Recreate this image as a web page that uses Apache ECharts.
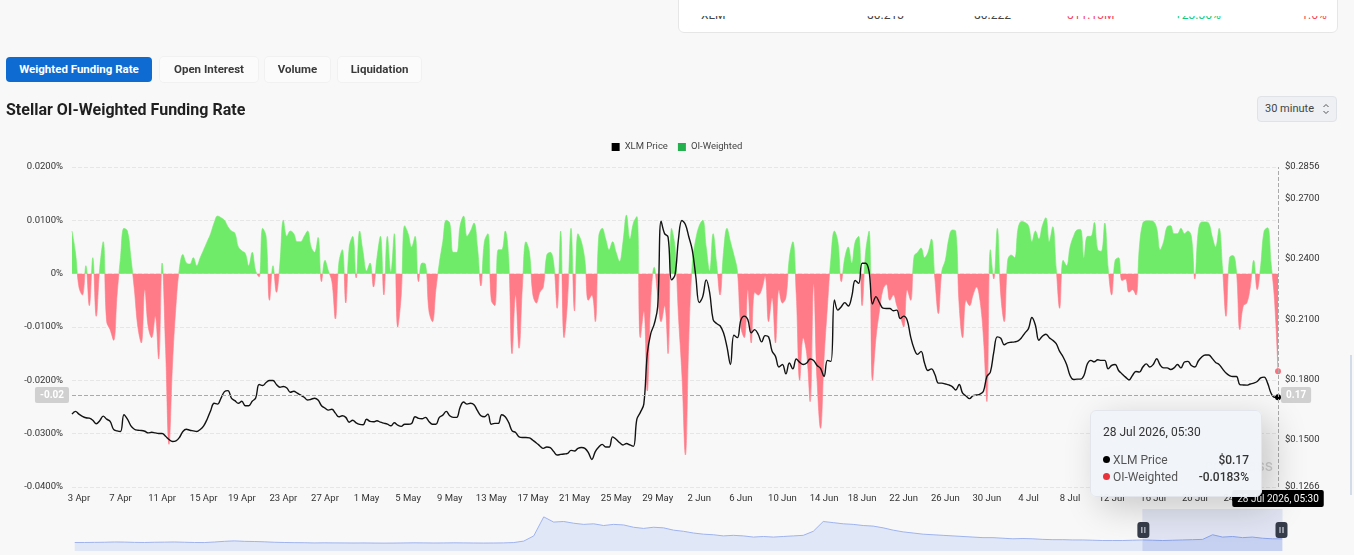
<!DOCTYPE html>
<html>
<head>
<meta charset="utf-8">
<title>Stellar OI-Weighted Funding Rate</title>
<script src="https://cdn.jsdelivr.net/npm/echarts@6/dist/echarts.min.js"></script>
<style>
  html, body { margin: 0; padding: 0; width: 1354px; height: 555px; overflow: hidden; background: #f8f8f8; font-family: Roboto, 'Noto Sans', sans-serif; }
  #chart { position: absolute; left: 0; top: 0; width: 1354px; height: 555px; }
  .card { position: absolute; left: 678px; top: -6px; width: 658px; height: 37px; background: #fff; border: 1px solid #e6e6e6; border-radius: 6px; z-index: 2; }
  .card .row { position: absolute; left: 0; top: 21px; width: 658px; height: 3px; overflow: hidden; }
  .card .row span { position: absolute; top: -7px; font-size: 12px; line-height: 12px; color: #444; }
  .tab { position: absolute; top: 57px; height: 25px; line-height: 25px; font-size: 11.5px; font-weight: 700; text-align: center; border-radius: 4px; color: #3a3a3a; background: #fbfbfb; box-shadow: 0 0 0 1px #f1f1f1; z-index: 2; }
  .tab.active { background: #0d6bd1; color: #fff; box-shadow: none; }
  .title { position: absolute; left: 6px; top: 100px; font-size: 16px; font-weight: 700; color: #1f1f1f; z-index: 2; }
  .select { position: absolute; left: 1257px; top: 96px; width: 78px; height: 24px; line-height: 24px; background: #eef0f3; border: 1px solid #dfe2e6; border-radius: 4px; font-size: 11px; color: #444; z-index: 2; }
  .select span { position: absolute; left: 7px; }
  .select svg { position: absolute; left: 64px; top: 6px; }
  .scroll { position: absolute; left: 1350px; top: 355px; width: 2px; height: 140px; background: #d3dbe8; z-index: 2; }
</style>
</head>
<body>
<div id="chart"></div>
<div class="card"><div class="row">
  <span style="left:22px">XLM</span>
  <span style="left:188px">$0.213</span>
  <span style="left:295px">$0.222</span>
  <span style="left:388px;color:#f6465d">$11.13M</span>
  <span style="left:496px;color:#0ecb81">+23.36%</span>
  <span style="left:619px;color:#f6465d">-1.6%</span>
</div></div>
<div class="tab active" style="left:6px;width:146px">Weighted Funding Rate</div>
<div class="tab" style="left:160px;width:98px">Open Interest</div>
<div class="tab" style="left:265px;width:65px">Volume</div>
<div class="tab" style="left:338px;width:83px">Liquidation</div>
<div class="title">Stellar OI-Weighted Funding Rate</div>
<div class="select"><span>30 minute</span>
  <svg width="8" height="12" viewBox="0 0 8 12"><path d="M1.5 4 L4 1.5 L6.5 4 M1.5 8 L4 10.5 L6.5 8" fill="none" stroke="#555" stroke-width="1"/></svg>
</div>
<div class="scroll"></div>
<script>
// time span of the view: first and last sample
const startTime = Date.UTC(2026, 3, 2, 13, 30);
const endTime = Date.UTC(2026, 6, 28, 5, 30);
const xTickLabels = ['3 Apr', '7 Apr', '11 Apr', '15 Apr', '19 Apr', '23 Apr', '27 Apr', '1 May', '5 May', '9 May',
  '13 May', '17 May', '21 May', '25 May', '29 May', '2 Jun', '6 Jun', '10 Jun', '14 Jun', '18 Jun', '22 Jun',
  '26 Jun', '30 Jun', '4 Jul', '8 Jul', '12 Jul', '16 Jul', '20 Jul', '24 Jul', '28 Jul'];

// XLM price ($)
const priceValues = [
  0.1628, 0.1642, 0.1628, 0.1617, 0.161, 0.1608, 0.1598, 0.158, 0.1595, 0.1618,
  0.1603, 0.1592, 0.1552, 0.1545, 0.1542, 0.1625, 0.1603, 0.157, 0.1553, 0.1548,
  0.1547, 0.1543, 0.1535, 0.1538, 0.1535, 0.1532, 0.1532, 0.1518, 0.1502, 0.1492,
  0.1495, 0.1512, 0.1542, 0.1553, 0.1548, 0.1545, 0.1542, 0.1552, 0.157, 0.1603,
  0.1645, 0.1682, 0.1678, 0.1708, 0.174, 0.1745, 0.1708, 0.1695, 0.1682, 0.1692,
  0.167, 0.167, 0.1692, 0.1708, 0.1775, 0.177, 0.1785, 0.1795, 0.1795, 0.1775,
  0.1762, 0.1765, 0.1758, 0.1737, 0.1742, 0.1732, 0.1723, 0.1712, 0.1698, 0.1702,
  0.1707, 0.1698, 0.167, 0.1658, 0.1648, 0.1652, 0.1633, 0.1615, 0.162, 0.1612,
  0.1588, 0.1598, 0.1585, 0.1577, 0.1575, 0.1603, 0.1592, 0.159, 0.1595, 0.1588,
  0.1583, 0.1578, 0.157, 0.1585, 0.1573, 0.1567, 0.1578, 0.1578, 0.1582, 0.1615,
  0.1607, 0.1605, 0.1612, 0.1592, 0.1578, 0.1578, 0.1612, 0.1623, 0.1642, 0.162,
  0.1612, 0.1612, 0.1662, 0.1688, 0.1678, 0.1682, 0.1675, 0.1645, 0.162, 0.1615,
  0.1628, 0.1578, 0.1582, 0.1582, 0.1625, 0.1615, 0.1587, 0.1545, 0.1537, 0.1515,
  0.1512, 0.1512, 0.151, 0.1498, 0.1485, 0.147, 0.1458, 0.1465, 0.1462, 0.1442,
  0.1425, 0.1428, 0.143, 0.1433, 0.1448, 0.1445, 0.1458, 0.1462, 0.1458, 0.1437,
  0.1403, 0.1442, 0.1465, 0.1478, 0.1465, 0.1465, 0.1515, 0.1503, 0.1487, 0.1475,
  0.1482, 0.1475, 0.1468, 0.1603, 0.1637, 0.1678, 0.1928, 0.2028, 0.2075, 0.2162,
  0.2587, 0.2525, 0.2508, 0.2295, 0.232, 0.2498, 0.259, 0.257, 0.2508, 0.2442,
  0.2312, 0.2182, 0.2212, 0.2295, 0.2232, 0.2098, 0.2078, 0.2067, 0.2032, 0.1962,
  0.1875, 0.202, 0.2008, 0.2095, 0.2115, 0.2098, 0.2032, 0.2048, 0.2025, 0.1987,
  0.2018, 0.2012, 0.1942, 0.1915, 0.1862, 0.1875, 0.1828, 0.1882, 0.1853, 0.1902,
  0.1885, 0.1875, 0.1882, 0.1902, 0.1895, 0.187, 0.1855, 0.1815, 0.1895, 0.189,
  0.2195, 0.2145, 0.2162, 0.2182, 0.2165, 0.2212, 0.2292, 0.2278, 0.2378, 0.2378,
  0.2337, 0.2175, 0.2212, 0.2182, 0.2155, 0.2153, 0.2153, 0.2142, 0.2145, 0.2103,
  0.2115, 0.2095, 0.2012, 0.1953, 0.1925, 0.194, 0.1882, 0.1845, 0.1853, 0.1825,
  0.1782, 0.1782, 0.1778, 0.1773, 0.1765, 0.1748, 0.1775, 0.1732, 0.1718, 0.1705,
  0.172, 0.1723, 0.1728, 0.1742, 0.1815, 0.1837, 0.1937, 0.2012, 0.2005, 0.1973,
  0.1982, 0.1985, 0.1987, 0.1992, 0.2008, 0.2032, 0.2053, 0.2108, 0.207, 0.1995,
  0.2015, 0.2025, 0.2008, 0.1995, 0.1978, 0.194, 0.1912, 0.1875, 0.182, 0.18,
  0.1802, 0.1802, 0.182, 0.1878, 0.1895, 0.1888, 0.1898, 0.1895, 0.1895, 0.1853,
  0.187, 0.1875, 0.1845, 0.1828, 0.1812, 0.1798, 0.182, 0.184, 0.1837, 0.1862,
  0.1878, 0.1862, 0.1875, 0.1903, 0.1872, 0.1858, 0.1858, 0.185, 0.1858, 0.1875,
  0.1858, 0.1887, 0.189, 0.187, 0.1862, 0.1892, 0.1912, 0.1922, 0.1922, 0.1905,
  0.1885, 0.1875, 0.1853, 0.1832, 0.182, 0.1815, 0.1815, 0.1775, 0.1773, 0.1772,
  0.1778, 0.1782, 0.179, 0.1808, 0.1812, 0.1782, 0.1732, 0.1712, 0.1712
];

// OI-weighted funding rate (%)
const fundingRates = [
  0.008, 0.004, -0.0025, -0.004, 0.0015, -0.006, 0.003, -0.008, 0.001, 0.006,
  -0.009, -0.0105, -0.0125, -0.004, 0.003, 0.0085, 0.008, 0.003, -0.003, -0.01,
  -0.013, -0.003, -0.01, -0.012, -0.008, -0.016, 0.002, -0.014, -0.032, -0.017,
  -0.006, 0.001, 0.0036, 0.002, 0.0018, 0.003, 0.0015, 0.003, 0.0045, 0.006,
  0.0075, 0.0095, 0.0108, 0.0105, 0.01, 0.0088, 0.008, 0.0076, 0.005, 0.0043,
  0.0038, 0.0015, 0.004, 0.0005, -0.0006, 0.0085, 0.007, -0.005, 0.0015, -0.0035,
  0.002, 0.01, 0.007, 0.008, 0.0075, 0.006, 0.006, 0.007, 0.008, 0.005,
  0.004, 0.0068, -0.0015, 0.0025, 0.0005, -0.0015, -0.0085, 0.002, 0.0045, -0.0055,
  0.005, 0.007, -0.0008, 0.008, 0.004, 0.0005, 0.002, -0.0025, 0.003, 0.007,
  -0.004, 0.007, 0.0003, 0.0075, -0.01, -0.004, 0.009, 0.0075, 0.005, 0.007,
  -0.0015, 0.002, 0.0018, -0.007, -0.009, -0.003, 0.002, 0.006, 0.01, 0.0095,
  0.004, 0.004, 0.009, 0.0108, 0.007, 0.008, 0.0095, 0.005, -0.0023, 0.006,
  0.0075, -0.005, -0.006, 0.0045, 0.0045, 0.008, 0.003, -0.015, -0.004, -0.014,
  -0.002, 0.006, 0.004, -0.004, -0.0055, -0.0035, -0.0025, 0.0035, 0.004, 0.002,
  -0.0065, 0.008, -0.012, -0.005, 0.0085, -0.007, 0.0075, 0.006, 0.0025, -0.005,
  -0.004, -0.009, 0.007, 0.0085, 0.0065, 0.0045, 0.006, 0.004, 0.0023, 0.006,
  0.011, 0.0065, 0.0095, 0.0107, -0.012, -0.007, -0.022, -0.005, 0.0012, -0.004,
  -0.009, -0.006, -0.015, 0.0085, 0.005, -0.008, -0.019, -0.034, -0.012, 0.002,
  0.0065, 0.009, 0.01, 0.005, 0.0005, 0.0075, 0.002, -0.004, 0.004, 0.0085,
  0.006, 0.0035, 0.0005, -0.01, -0.012, -0.003, -0.013, -0.0035, -0.004, -0.003,
  -0.0005, -0.009, -0.0045, -0.013, -0.003, -0.0055, -0.0045, 0.003, 0.006, -0.004,
  -0.02, -0.012, -0.015, -0.024, -0.002, -0.02, -0.029, -0.016, -0.006, 0.003,
  0.008, 0.006, -0.0015, 0.003, 0.005, 0.002, 0.006, 0.007, -0.006, 0.004,
  0.008, -0.02, -0.012, -0.007, -0.003, -0.002, -0.005, -0.004, -0.006, -0.008,
  -0.01, -0.003, -0.005, 0.0033, 0.004, 0.0048, 0.003, 0.004, 0.0065, -0.001,
  -0.0075, 0.0005, 0.0025, 0.0065, 0.0082, 0.008, -0.006, -0.012, -0.005, -0.006,
  -0.004, -0.0025, -0.005, -0.012, -0.024, 0.0045, -0.001, 0.0085, -0.004, -0.009,
  0.0025, 0.0035, 0.003, 0.0085, 0.0098, 0.0096, 0.009, 0.006, 0.008, 0.0065,
  0.009, 0.0105, 0.006, 0.0088, 0.001, -0.0065, 0.0025, 0.0015, 0.005, 0.007,
  0.0082, 0.0083, 0.003, 0.007, 0.007, 0.0096, 0.0045, 0.0042, 0.0095, 0.001,
  -0.004, 0.0025, 0.003, -0.0013, -0.001, -0.0035, -0.003, -0.004, 0.005, 0.0095,
  0.0099, 0.0099, 0.0098, 0.0085, 0.0045, 0.006, 0.0088, 0.009, 0.0075, 0.0075,
  0.0085, 0.0075, 0.008, 0.007, -0.001, 0.008, 0.0097, 0.0097, 0.0095, 0.007,
  0.005, 0.0085, 0.001, -0.008, 0.003, 0.0034, 0.0005, -0.0105, -0.006, -0.0055,
  -0.0025, 0.0025, -0.003, 0.0015, 0.008, 0.0086, 0.002, -0.005, -0.0183
];

// long price history drawn as the slider shadow
const overviewPrices = [
  0.106, 0.106, 0.108, 0.11, 0.115, 0.113, 0.108, 0.106, 0.11, 0.112,
  0.115, 0.11, 0.106, 0.105, 0.114, 0.126, 0.134, 0.126, 0.123, 0.118,
  0.11, 0.106, 0.103, 0.102, 0.098, 0.1, 0.099, 0.098, 0.097, 0.098,
  0.096, 0.095, 0.096, 0.098, 0.1, 0.099, 0.097, 0.098, 0.1, 0.099,
  0.097, 0.096, 0.097, 0.099, 0.105, 0.13, 0.22, 0.55, 0.46, 0.47,
  0.44, 0.42, 0.43, 0.4, 0.42, 0.41, 0.37, 0.35, 0.37, 0.36,
  0.32, 0.3, 0.27, 0.25, 0.24, 0.22, 0.23, 0.22, 0.2, 0.21,
  0.2, 0.21, 0.22, 0.23, 0.3, 0.47, 0.45, 0.43, 0.42, 0.4,
  0.39, 0.36, 0.32, 0.29, 0.27, 0.25, 0.24, 0.23, 0.22, 0.21,
  0.2, 0.19, 0.19, 0.18, 0.17, 0.175, 0.17, 0.16, 0.155, 0.155,
  0.15, 0.15, 0.145, 0.14, 0.14, 0.14, 0.145, 0.15, 0.145, 0.14,
  0.145, 0.15, 0.155, 0.16, 0.24, 0.2, 0.21, 0.19, 0.2, 0.18, 0.17, 0.17
];

const MONTHS = ['Jan', 'Feb', 'Mar', 'Apr', 'May', 'Jun', 'Jul', 'Aug', 'Sep', 'Oct', 'Nov', 'Dec'];
const HALF_HOUR = 30 * 60 * 1000;
const pad2 = n => (n < 10 ? '0' : '') + n;
// sample times, snapped to the 30 minute grid
const categories = priceValues.map((_, i) => {
  const t = startTime + (endTime - startTime) * i / (priceValues.length - 1);
  const d = new Date(Math.round(t / HALF_HOUR) * HALF_HOUR);
  return d.getUTCDate() + ' ' + MONTHS[d.getUTCMonth()] + ' ' + d.getUTCFullYear() + ', ' +
    pad2(d.getUTCHours()) + ':' + pad2(d.getUTCMinutes());
});
const dayPart = v => v.split(' ').slice(0, 2).join(' ');
const overviewCategories = overviewPrices.map((_, i) => String(i));

const GREEN = '#66d560';
const RED = '#ff707c';

const chartDom = document.getElementById('chart');
const chart = echarts.init(chartDom, null, { renderer: 'canvas' });

const pointerLabel = { formatter: p => Number(p.value).toFixed(2), backgroundColor: '#d0d0d0', color: '#fff', fontSize: 10, fontWeight: 'bold', padding: [3, 5], borderRadius: 2 };

chart.setOption({
  animation: false,
  textStyle: { fontFamily: 'Roboto, sans-serif' },
  legend: {
    top: 137,
    left: 'center',
    icon: 'rect',
    itemWidth: 8,
    itemHeight: 8,
    itemGap: 10,
    data: ['XLM Price', 'OI-Weighted'],
    textStyle: { fontSize: 9.5, color: '#444' }
  },
  grid: [
    { left: 72, right: 76, top: 167, bottom: 68 },
    { left: 72, right: 74, bottom: 4, height: 42 }
  ],
  graphic: [{
    type: 'text',
    z: -1,
    style: { text: 'coinglass', x: 1273, y: 467, align: 'right', verticalAlign: 'middle', fill: '#cfcfcf', font: '16px Roboto' }
  }],
  tooltip: {
    trigger: 'axis',
    triggerOn: 'none',
    alwaysShowContent: true,
    transitionDuration: 0,
    backgroundColor: 'rgba(241,244,248,0.97)',
    borderColor: '#e2e6ec',
    borderWidth: 1,
    padding: [11, 12, 10, 12],
    extraCssText: 'border-radius:6px;box-shadow:10px 10px 36px rgba(0,0,0,0.2);',
    position: () => [1090, 410],
    axisPointer: {
      type: 'cross',
      lineStyle: { color: '#aaa', type: 'dashed', width: 1 },
      crossStyle: { color: '#aaa', type: 'dashed', width: 1 }
    },
    formatter: function (params) {
      const list = params.filter(p => p.seriesName === 'XLM Price' || p.seriesName === 'OI-Weighted');
      let html = '<div style="font-size:12px;color:#333;margin-bottom:9px;">' + list[0].axisValue + '</div>';
      list.forEach(p => {
        const isPrice = p.seriesName === 'XLM Price';
        const val = isPrice ? '$' + p.value.toFixed(2) : p.value.toFixed(4) + '%';
        const dot = isPrice ? '#000' : (p.value < 0 ? '#e8323c' : '#22b14c');
        html += '<div style="display:flex;justify-content:space-between;min-width:146px;line-height:17px;font-size:12px;">' +
          '<span style="color:#555"><span style="display:inline-block;width:7px;height:7px;border-radius:50%;background:' + dot +
          ';margin-right:3px;vertical-align:1px;"></span>' + p.seriesName + '</span>' +
          '<span style="font-weight:500;color:#333;margin-left:16px;">' + val + '</span></div>';
      });
      return html;
    }
  },
  visualMap: {
    type: 'piecewise',
    show: false,
    seriesIndex: 1,
    dimension: 1,
    pieces: [
      { gt: 0, lte: 1, color: GREEN },
      { gt: -1, lte: 0, color: RED }
    ]
  },
  xAxis: [{
    type: 'category',
    gridIndex: 0,
    boundaryGap: false,
    data: categories,
    axisLine: { show: false },
    axisTick: { show: false },
    axisLabel: {
      color: '#333',
      fontSize: 9.5,
      margin: 7,
      // first sample of each labelled day
      interval: (index, value) => xTickLabels.indexOf(dayPart(value)) >= 0 &&
        (index === 0 || dayPart(categories[index - 1]) !== dayPart(value)),
      formatter: value => dayPart(value)
    },
    axisPointer: {
      label: { backgroundColor: '#000', color: '#fff', fontSize: 10, padding: [4, 5, 3, 5], borderRadius: 2 }
    }
  }, {
    type: 'category',
    gridIndex: 1,
    show: false,
    boundaryGap: false,
    data: overviewCategories
  }],
  yAxis: [{
    type: 'value',
    gridIndex: 0,
    position: 'left',
    min: -0.04,
    max: 0.02,
    interval: 0.01,
    axisLine: { show: false },
    axisTick: { show: false },
    axisLabel: {
      color: '#333',
      fontSize: 9.5,
      margin: 9,
      formatter: v => (Math.abs(v) < 1e-9 ? '0%' : v.toFixed(4) + '%')
    },
    splitLine: { lineStyle: { color: '#e6e6e6', type: 'dashed' } },
    axisPointer: { label: pointerLabel }
  }, {
    type: 'value',
    gridIndex: 0,
    position: 'right',
    min: 0.1266,
    max: 0.2856,
    splitNumber: 5,
    axisLine: { show: false },
    axisTick: { show: false },
    splitLine: { show: false },
    axisLabel: {
      color: '#333',
      fontSize: 9.5,
      margin: 7,
      formatter: v => '$' + v.toFixed(4)
    },
    axisPointer: { label: pointerLabel }
  }, {
    type: 'value',
    gridIndex: 1,
    show: false,
    scale: true
  }],
  dataZoom: [{
    type: 'slider',
    xAxisIndex: 1,
    start: 88.4,
    end: 100,
    left: 72,
    right: 74,
    bottom: 4,
    height: 42,
    showDetail: false,
    brushSelect: false,
    moveHandleSize: 0,
    showDataShadow: true,
    backgroundColor: 'rgba(0,0,0,0)',
    borderColor: 'rgba(0,0,0,0)',
    fillerColor: 'rgba(120,145,220,0.18)',
    dataBackground: {
      lineStyle: { color: '#9fb3ee', width: 1, opacity: 1 },
      areaStyle: { color: '#dde4f6', opacity: 0.9 }
    },
    selectedDataBackground: {
      lineStyle: { color: '#8ea6ea', width: 1, opacity: 1 },
      areaStyle: { color: '#d3dcf4', opacity: 0.9 }
    },
    handleIcon: 'path://M3,0 H9 A3,3 0 0 1 12,3 V13 A3,3 0 0 1 9,16 H3 A3,3 0 0 1 0,13 V3 A3,3 0 0 1 3,0 Z M4,5 V11 H5 V5 Z M7,5 V11 H8 V5 Z',
    handleSize: 16,
    handleStyle: { color: '#373c4a', borderColor: '#373c4a', borderWidth: 0 }
  }],
  series: [{
    name: 'XLM Price',
    type: 'line',
    xAxisIndex: 0,
    yAxisIndex: 1,
    data: priceValues,
    smooth: 0.4,
    showSymbol: false,
    symbol: 'circle',
    symbolSize: 4,
    z: 4,
    itemStyle: { color: '#000' },
    lineStyle: { color: '#111', width: 1.4 }
  }, {
    name: 'OI-Weighted',
    type: 'line',
    xAxisIndex: 0,
    yAxisIndex: 0,
    data: fundingRates,
    smooth: 0.4,
    showSymbol: false,
    symbol: 'circle',
    symbolSize: 5,
    z: 2,
    itemStyle: { color: '#22b14c' },
    lineStyle: { width: 0.6 },
    areaStyle: { opacity: 1 }
  }, {
    name: 'overview',
    type: 'line',
    xAxisIndex: 1,
    yAxisIndex: 2,
    data: overviewPrices,
    silent: true,
    showSymbol: false,
    lineStyle: { opacity: 0 },
    tooltip: { show: false }
  }]
});

// hover state at the last point, as in the picture
chart.dispatchAction({ type: 'showTip', x: 1278, y: 395 });
</script>
</body>
</html>
